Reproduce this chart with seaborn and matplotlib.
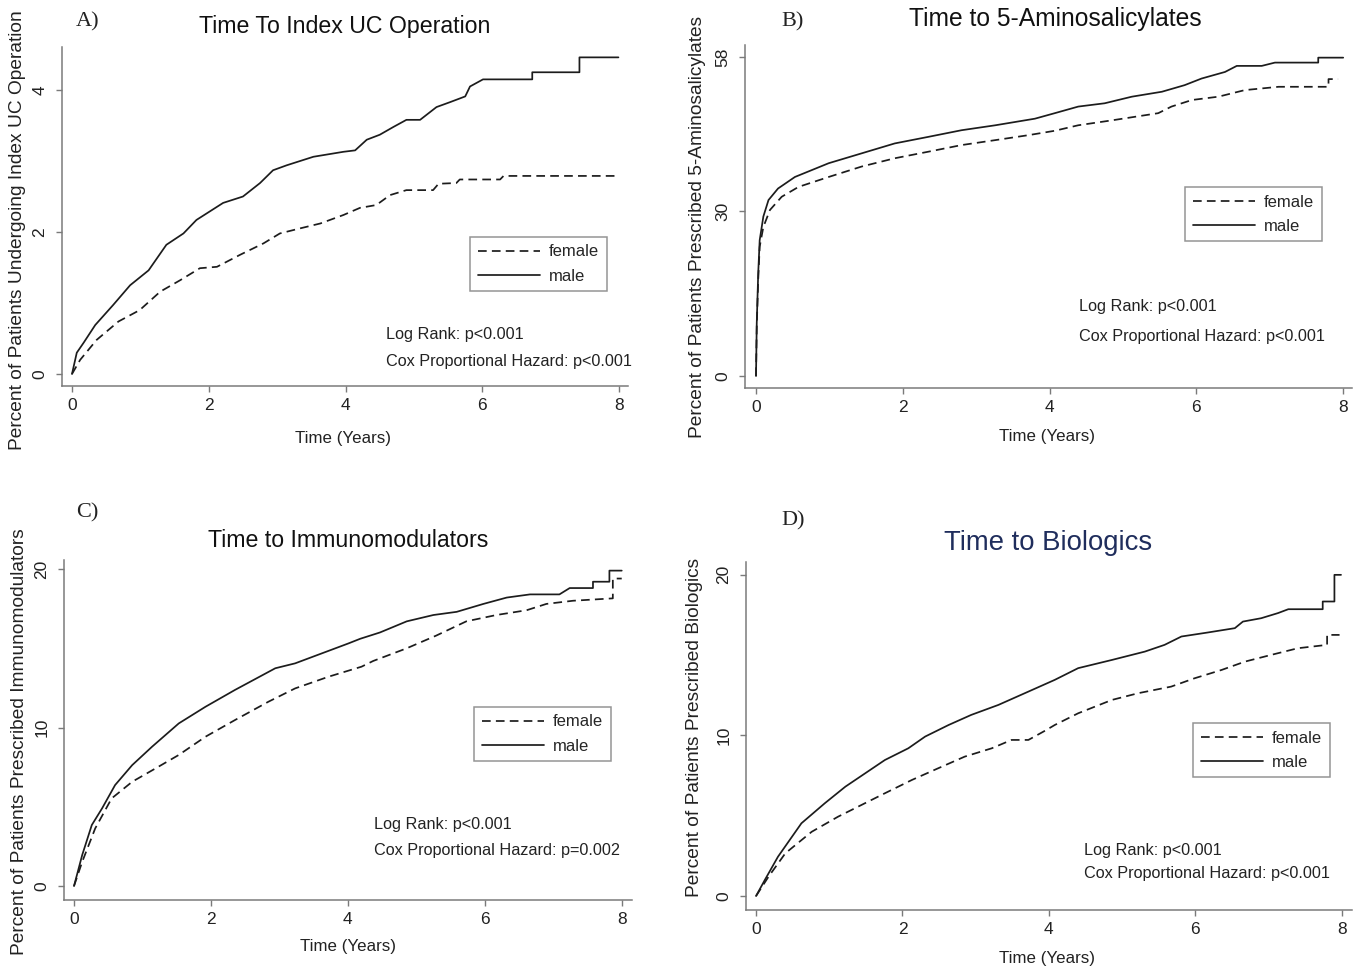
import numpy as np
import pandas as pd
import matplotlib
matplotlib.use("Agg")
import matplotlib.pyplot as plt
import seaborn as sns

# ---------------- data ----------------
a_male_t = [0, 0.07, 0.17, 0.34, 0.60, 0.85, 1.12, 1.38, 1.63, 1.82, 2.21, 2.50, 2.75, 2.94, 3.14, 3.53,
            3.97, 4.14, 4.31, 4.50, 4.70, 4.89, 5.09, 5.33, 5.53, 5.75, 5.82, 6.01, 6.73, 6.73, 7.42, 7.42, 7.99]
a_male_pct = [0, 0.30, 0.44, 0.69, 0.97, 1.25, 1.46, 1.82, 1.98, 2.17, 2.41, 2.50, 2.69, 2.87, 2.94, 3.06,
              3.13, 3.15, 3.30, 3.37, 3.48, 3.58, 3.58, 3.76, 3.83, 3.91, 4.05, 4.15, 4.15, 4.25, 4.25, 4.46, 4.46]
a_female_t = [0, 0.12, 0.36, 0.68, 0.99, 1.29, 1.58, 1.87, 2.12, 2.46, 2.80, 3.04, 3.33, 3.63, 3.97, 4.21,
              4.45, 4.65, 4.89, 5.28, 5.36, 5.62, 5.67, 6.26, 6.31, 7.94]
a_female_pct = [0, 0.20, 0.48, 0.74, 0.90, 1.16, 1.32, 1.49, 1.51, 1.68, 1.84, 1.98, 2.05, 2.12, 2.24, 2.34,
                2.38, 2.52, 2.59, 2.59, 2.68, 2.69, 2.74, 2.74, 2.79, 2.79]

b_male_t = [0, 0.01, 0.03, 0.05, 0.10, 0.17, 0.30, 0.53, 0.99, 1.44, 1.89, 2.35, 2.80, 3.26, 3.80, 4.07,
            4.39, 4.75, 5.12, 5.53, 5.84, 6.07, 6.39, 6.55, 6.89, 7.07, 7.66, 7.66, 8.00]
b_male_pct = [0, 9.6, 18.7, 24.7, 29.0, 32.0, 34.1, 36.2, 38.7, 40.5, 42.3, 43.5, 44.7, 45.6, 46.8, 47.8,
              49.0, 49.6, 50.8, 51.7, 52.9, 54.1, 55.3, 56.4, 56.4, 57.0, 57.0, 57.9, 57.9]
b_female_t = [0, 0.01, 0.03, 0.05, 0.10, 0.19, 0.35, 0.58, 0.99, 1.44, 1.89, 2.35, 2.80, 3.26, 3.71, 4.07,
              4.39, 4.85, 5.48, 5.66, 5.94, 6.30, 6.66, 7.12, 7.80, 7.80, 7.93]
b_female_pct = [0, 9.0, 17.5, 23.5, 27.1, 30.2, 32.6, 34.4, 36.2, 38.1, 39.6, 40.8, 42.0, 42.9, 43.8, 44.6,
                45.6, 46.5, 47.8, 49.0, 50.2, 50.8, 52.0, 52.6, 52.6, 54.0, 54.0]

c_male_t = [0, 0.12, 0.26, 0.41, 0.60, 0.85, 1.14, 1.53, 1.92, 2.35, 2.94, 3.23, 3.62, 4.01, 4.18, 4.47,
            4.86, 5.25, 5.59, 5.98, 6.32, 6.66, 7.09, 7.24, 7.58, 7.58, 7.82, 7.82, 8.00]
c_male_pct = [0, 1.96, 3.85, 4.90, 6.37, 7.63, 8.79, 10.26, 11.31, 12.37, 13.74, 14.05, 14.68, 15.31, 15.6, 16.0,
              16.7, 17.1, 17.3, 17.8, 18.2, 18.4, 18.4, 18.8, 18.8, 19.2, 19.2, 19.9, 19.9]
c_female_t = [0, 0.12, 0.31, 0.55, 0.85, 1.19, 1.53, 1.92, 2.35, 2.84, 3.23, 3.72, 4.20, 4.37, 4.86, 5.29,
              5.73, 6.17, 6.61, 6.90, 7.29, 7.87, 7.87, 8.00]
c_female_pct = [0, 1.53, 3.64, 5.53, 6.58, 7.42, 8.27, 9.42, 10.47, 11.63, 12.47, 13.21, 13.84, 14.2, 15.0, 15.8,
                16.7, 17.1, 17.4, 17.8, 18.0, 18.15, 19.4, 19.4]

d_male_t = [0, 0.12, 0.30, 0.62, 0.94, 1.22, 1.49, 1.76, 2.08, 2.31, 2.63, 2.94, 3.31, 3.72, 4.08, 4.40,
            4.86, 5.31, 5.58, 5.81, 6.17, 6.54, 6.65, 6.90, 7.13, 7.27, 7.74, 7.74, 7.90, 7.90, 7.99]
d_male_pct = [0, 1.0, 2.45, 4.53, 5.78, 6.81, 7.64, 8.47, 9.20, 9.93, 10.65, 11.28, 11.90, 12.73, 13.46, 14.19,
              14.70, 15.22, 15.64, 16.16, 16.41, 16.68, 17.09, 17.30, 17.62, 17.86, 17.86, 18.34, 18.34, 20.0, 20.0]
d_female_t = [0, 0.17, 0.40, 0.76, 1.12, 1.44, 1.76, 2.13, 2.49, 2.85, 3.22, 3.49, 3.72, 3.95, 4.08, 4.40,
              4.86, 5.22, 5.67, 5.99, 6.36, 6.68, 7.04, 7.40, 7.80, 7.80, 7.97]
d_female_pct = [0, 1.2, 2.66, 4.0, 4.94, 5.67, 6.40, 7.23, 7.96, 8.68, 9.20, 9.72, 9.72, 10.30, 10.65, 11.38,
                12.21, 12.63, 13.04, 13.56, 14.08, 14.60, 15.02, 15.43, 15.64, 16.26, 16.26]

sexes = ["female", "male"]
x_ticks = [0, 2, 4, 6, 8]
a_yticks = [0, 2, 4]
b_yticks = [0, 30, 58]
c_yticks = [0, 10, 20]
d_yticks = [0, 10, 20]

panel_letters = ["A)", "B)", "C)", "D)"]
titles = ["Time To Index UC Operation", "Time to 5-Aminosalicylates",
          "Time to Immunomodulators", "Time to Biologics"]
ylabels = ["Percent of Patients Undergoing Index UC Operation",
           "Percent of Patients Prescribed 5-Aminosalicylates",
           "Percent of Patients Prescribed Immunomodulators",
           "Percent of Patients Prescribed Biologics"]
xlabel = "Time (Years)"
stats = [("Log Rank: p<0.001", "Cox Proportional Hazard: p<0.001"),
         ("Log Rank: p<0.001", "Cox Proportional Hazard: p<0.001"),
         ("Log Rank: p<0.001", "Cox Proportional Hazard: p=0.002"),
         ("Log Rank: p<0.001", "Cox Proportional Hazard: p<0.001")]

# ---------------- style ----------------
sns.set_theme(style="ticks")
SANS = ["Liberation Sans", "DejaVu Sans"]
plt.rcParams["font.family"] = SANS

W, H = 1363, 971
fig = plt.figure(figsize=(W / 100, H / 100), dpi=100)
fig.patch.set_facecolor("white")


def fx(px):
    return px / W


def fy(py):
    return 1 - py / H


def make_df(ft, fp, mt, mp):
    return pd.concat([
        pd.DataFrame({"time": ft, "pct": fp, "sex": "female"}),
        pd.DataFrame({"time": mt, "pct": mp, "sex": "male"}),
    ], ignore_index=True)


panels = [
    dict(df=make_df(a_female_t, a_female_pct, a_male_t, a_male_pct), yticks=a_yticks,
         box=(62, 47, 628, 386), xlim=(-0.146, 8.13), ylim=(-0.169, 4.606),
         letter=(88, 22), title=(345, 27), tsize=16.7, ylab=(18, 230), xlab=(343, 438),
         leg=(470, 237), stat=(386, 335, 361)),
    dict(df=make_df(b_female_t, b_female_pct, b_male_t, b_male_pct), yticks=b_yticks,
         box=(745, 45, 1352, 388), xlim=(-0.15, 8.12), ylim=(-2.18, 60.2),
         letter=(793, 22), title=(1055, 19), tsize=17.7, ylab=(697, 227), xlab=(1047, 437),
         leg=(1185, 187), stat=(1079, 306, 336)),
    dict(df=make_df(c_female_t, c_female_pct, c_male_t, c_male_pct), yticks=c_yticks,
         box=(64, 560, 632, 900), xlim=(-0.146, 8.15), ylim=(-0.88, 20.57),
         letter=(87, 513), title=(348, 540), tsize=16.7, ylab=(20, 742), xlab=(348, 946),
         leg=(474, 707), stat=(374, 824, 850)),
    dict(df=make_df(d_female_t, d_female_pct, d_male_t, d_male_pct), yticks=d_yticks,
         box=(746, 562, 1352, 910), xlim=(-0.137, 8.14), ylim=(-0.87, 20.8),
         letter=(793, 521), title=(1048, 543), tsize=19.8, ylab=(694, 727), xlab=(1047, 958),
         leg=(1193, 723), stat=(1084, 850, 873)),
]

LINE = "#1c1c1c"
SPINE = "#7a7a7a"
TXT = "#222222"

for i, p in enumerate(panels):
    l, t, r, b = p["box"]
    ax = fig.add_axes([fx(l), fy(b), fx(r - l), (b - t) / H])
    sns.lineplot(data=p["df"], x="time", y="pct", hue="sex", style="sex",
                 hue_order=sexes, style_order=sexes,
                 palette={"female": LINE, "male": LINE},
                 dashes={"female": (5, 3), "male": ""},
                 estimator=None, linewidth=1.25, ax=ax)
    ax.set_xlim(*p["xlim"])
    ax.set_ylim(*p["ylim"])
    ax.set_xticks(x_ticks)
    ax.set_yticks(p["yticks"])
    ax.set_xlabel("")
    ax.set_ylabel("")
    for s in ["top", "right"]:
        ax.spines[s].set_visible(False)
    for s in ["left", "bottom"]:
        ax.spines[s].set_color(SPINE)
        ax.spines[s].set_linewidth(1.1)
    ax.tick_params(axis="both", direction="out", length=4.5, width=1.0, color=SPINE,
                   labelsize=12.5, labelcolor=TXT, pad=4)
    ax.tick_params(axis="y", labelrotation=90, pad=6)
    for lab in ax.get_yticklabels():
        lab.set_va("center")
    ax.set_facecolor("white")
    ax.grid(False)

    # legend
    ll, lt = p["leg"]
    handles, labels = ax.get_legend_handles_labels()
    if ax.get_legend() is not None:
        ax.get_legend().remove()
    leg = ax.legend(handles[-2:], labels[-2:], loc="upper left",
                    bbox_to_anchor=(fx(ll), fy(lt)), bbox_transform=fig.transFigure,
                    frameon=True, fancybox=False, fontsize=12, handlelength=3.75,
                    handletextpad=0.55, labelspacing=0.55, borderpad=0.45,
                    borderaxespad=0)
    leg.get_frame().set_edgecolor(SPINE)
    leg.get_frame().set_linewidth(1.1)
    for lh in leg.get_lines():
        lh.set_linewidth(1.25)

    # texts
    lx, ly = p["letter"]
    fig.text(fx(lx), fy(ly), panel_letters[i], ha="center", va="center",
             fontsize=16, family=["Liberation Serif", "DejaVu Serif"], color=TXT)
    tx, ty = p["title"]
    fig.text(fx(tx), fy(ty), titles[i], ha="center", va="center", fontsize=p["tsize"],
             color="#1f2d5c" if i == 3 else "#111111")
    yx, yy = p["ylab"]
    fig.text(fx(yx), fy(yy), ylabels[i], ha="center", va="center", rotation=90,
             fontsize=13.8, color=TXT)
    xx, xy = p["xlab"]
    fig.text(fx(xx), fy(xy), xlabel, ha="center", va="center", fontsize=12.2, color=TXT)
    sx, sy1, sy2 = p["stat"]
    fig.text(fx(sx), fy(sy1), stats[i][0], ha="left", va="center", fontsize=11.7, color=TXT)
    fig.text(fx(sx), fy(sy2), stats[i][1], ha="left", va="center", fontsize=11.7, color=TXT)

fig.savefig("out.png", dpi=100, facecolor="white")
